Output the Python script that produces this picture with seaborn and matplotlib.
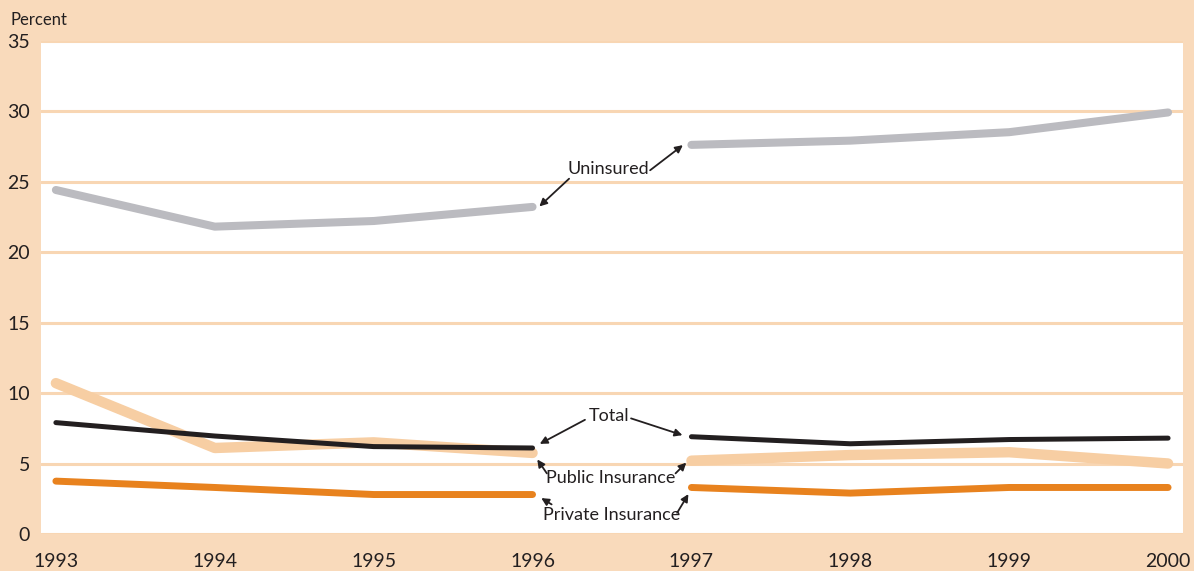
import numpy as np
import pandas as pd
import seaborn as sns
import matplotlib.pyplot as plt

# Datos (ruptura de serie entre 1996 y 1997)
years = [1993, 1994, 1995, 1996, 1997, 1998, 1999, 2000]
uninsured = [24.4, 21.8, 22.2, 23.2, 27.6, 27.9, 28.5, 29.9]
total = [7.9, 6.95, 6.2, 6.1, 6.9, 6.4, 6.7, 6.8]
public = [10.7, 6.1, 6.5, 5.75, 5.2, 5.6, 5.8, 5.0]
private = [3.75, 3.3, 2.8, 2.8, 3.3, 2.9, 3.3, 3.3]
period = ["1993-1996"] * 4 + ["1997-2000"] * 4

PEACH_BG = "#F9DABB"
GRID = "#F8D6B3"
TEXT = "#231F20"

series = [
    ("Public Insurance", public, "#F7CEA3", 7.5),
    ("Private Insurance", private, "#E8821E", 5.0),
    ("Total", total, "#231F20", 3.6),
    ("Uninsured", uninsured, "#BBBBC0", 5.8),
]

rows = []
for name, vals, _, _ in series:
    for y, v, p in zip(years, vals, period):
        rows.append({"Year": y, "Percent": v, "Series": name, "Period": p})
df = pd.DataFrame(rows)

sns.set_theme(style="white")
plt.rcParams["font.family"] = ["Lato", "DejaVu Sans"]

fig = plt.figure(figsize=(11.94, 5.71), dpi=100, facecolor=PEACH_BG)
ax = fig.add_axes([0.0343, 0.0648, 0.9565, 0.8642])
ax.set_facecolor("white")

for name, _, color, lw in series:
    for p in ["1993-1996", "1997-2000"]:
        sub = df[(df["Series"] == name) & (df["Period"] == p)]
        sns.lineplot(data=sub, x="Year", y="Percent", color=color, linewidth=lw,
                     solid_capstyle="round", ax=ax, legend=False)

ax.set_xlim(1993 - 0.094, 2000 + 0.094)
ax.set_ylim(0, 35)
ax.set_yticks(range(0, 40, 5))
ax.set_xticks(years)
ax.grid(axis="y", color=GRID, linewidth=2.2, zorder=0)
ax.set_axisbelow(True)
for s in ax.spines.values():
    s.set_visible(False)
ax.tick_params(axis="y", length=0, pad=8, labelsize=14, labelcolor=TEXT)
ax.tick_params(axis="x", direction="in", length=10, width=2, color=GRID,
               pad=14, labelsize=14, labelcolor=TEXT)
ax.set_xlabel("")
ax.set_ylabel("")
fig.text(0.009, 0.965, "Percent", fontsize=12, color=TEXT, ha="left", va="center")

arrow = dict(arrowstyle="-|>", color=TEXT, lw=1.3, mutation_scale=11, shrinkA=0, shrinkB=2)
fs = 13

# Uninsured
ax.text(1996.48, 25.9, "Uninsured", ha="center", va="center", fontsize=fs, color=TEXT)
ax.annotate("", xy=(1996.03, 23.1), xytext=(1996.23, 25.2), arrowprops=arrow)
ax.annotate("", xy=(1996.96, 27.7), xytext=(1996.74, 25.8), arrowprops=arrow)

# Total
ax.text(1996.48, 8.4, "Total", ha="center", va="center", fontsize=fs, color=TEXT)
ax.annotate("", xy=(1996.03, 6.3), xytext=(1996.33, 8.1), arrowprops=arrow)
ax.annotate("", xy=(1996.96, 6.95), xytext=(1996.62, 8.2), arrowprops=arrow)

# Public Insurance
ax.text(1996.49, 4.0, "Public Insurance", ha="center", va="center", fontsize=fs, color=TEXT)
ax.annotate("", xy=(1996.02, 5.45), xytext=(1996.09, 4.3), arrowprops=arrow)
ax.annotate("", xy=(1996.98, 5.2), xytext=(1996.9, 4.3), arrowprops=arrow)

# Private Insurance
ax.text(1996.5, 1.35, "Private Insurance", ha="center", va="center", fontsize=fs, color=TEXT)
ax.annotate("", xy=(1996.04, 2.65), xytext=(1996.12, 2.1), arrowprops=arrow)
ax.annotate("", xy=(1996.99, 3.0), xytext=(1996.91, 1.5), arrowprops=arrow)

fig.savefig("out.png", dpi=100, facecolor=PEACH_BG)
